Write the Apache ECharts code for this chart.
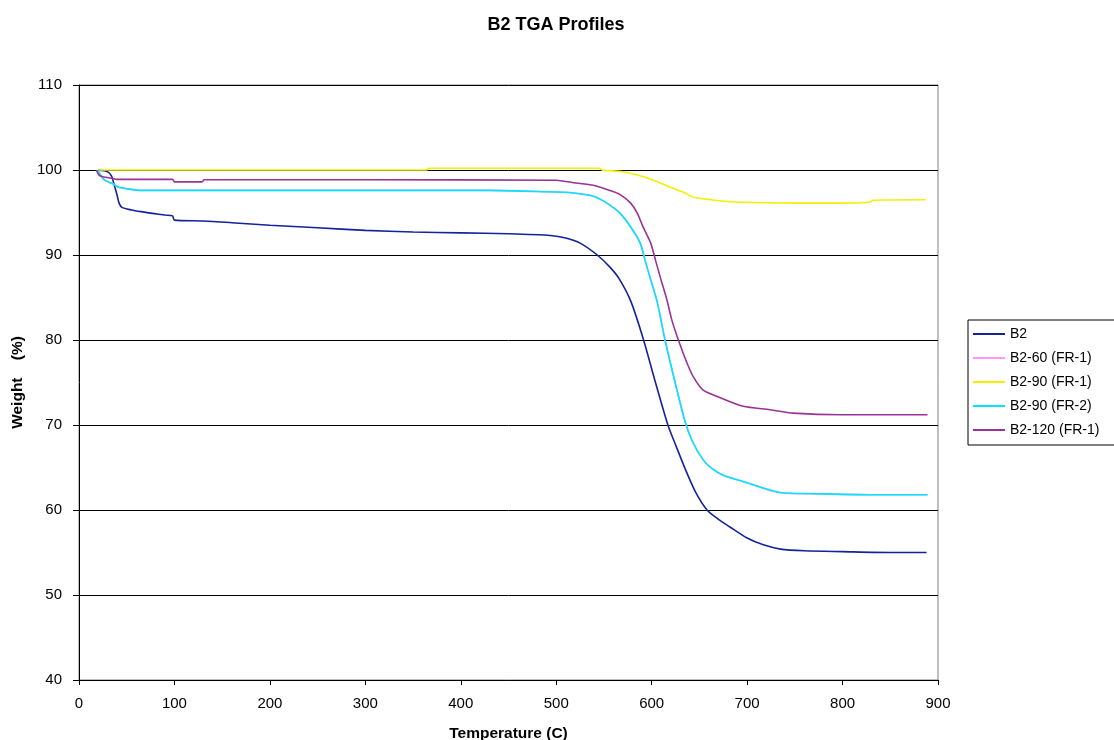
<!DOCTYPE html>
<html>
<head>
<meta charset="utf-8">
<script src="https://cdn.jsdelivr.net/npm/echarts@6/dist/echarts.min.js"></script>
<style>
html,body{margin:0;padding:0;background:#fff;}
#chart{width:1114px;height:740px;}
</style>
</head>
<body>
<div id="chart"></div>
<script>
// Series names
var seriesNames = ['B2', 'B2-60 (FR-1)', 'B2-90 (FR-1)', 'B2-90 (FR-2)', 'B2-120 (FR-1)'];

// [Temperature (C), Weight (%)]
var b2 = [[20,100],[30,99.8],[34,99.3],[36,98.6],[40,97.0],[42,96.1],[45,95.6],[55,95.3],[65,95.1],[77,94.9],[90,94.7],[98,94.6],[100,94.1],[130,94.0],[160,93.8],[200,93.5],[250,93.2],[300,92.9],[350,92.7],[400,92.6],[450,92.5],[494,92.3],[510,92.0],[525,91.4],[543,90.0],[556,88.6],[566,87.2],[578,84.6],[591,80.2],[604,75.0],[617,70.0],[626,67.4],[636,64.6],[646,62.1],[658,60.0],[670,58.9],[682,58.0],[700,56.7],[717,55.9],[735,55.4],[760,55.2],[800,55.1],[850,55.0],[888,55.0]];

var b2_60_fr1 = [[20,100],[22,99.5],[27,98.8],[36,98.35],[41,98.0],[50,97.8],[66,97.6],[150,97.6],[300,97.6],[430,97.6],[486,97.45],[518,97.3],[539,96.9],[553,96.1],[567,94.9],[578,93.3],[588,91.4],[593,89.4],[599,87.1],[606,84.4],[614,80.0],[625,74.8],[635,70.4],[643,68.0],[654,65.9],[663,64.9],[675,64.1],[700,63.2],[724,62.3],[738,62.0],[780,61.9],[830,61.8],[889,61.8]];

var b2_90_fr1 = [[20,100],[100,100],[200,100],[364,100.0],[366,100.2],[545,100.2],[548,100.0],[570,99.8],[585,99.4],[602,98.8],[619,98.0],[633,97.4],[644,96.8],[662,96.5],[679,96.3],[700,96.2],[750,96.1],[800,96.1],[828,96.2],[832,96.45],[887,96.5]];

var b2_90_fr2 = [[20,100],[22,99.5],[27,98.8],[36,98.35],[41,98.0],[50,97.8],[66,97.6],[150,97.6],[300,97.6],[430,97.6],[486,97.45],[518,97.3],[539,96.9],[553,96.1],[567,94.9],[578,93.3],[588,91.4],[593,89.4],[599,87.1],[606,84.4],[614,80.0],[625,74.8],[635,70.4],[643,68.0],[654,65.9],[663,64.9],[675,64.1],[700,63.2],[724,62.35],[738,62.0],[780,61.9],[830,61.8],[889,61.8]];

var b2_120_fr1 = [[18,100],[21,99.4],[25,99.2],[35,99.0],[40,98.9],[98,98.9],[100,98.6],[129,98.6],[131,98.85],[300,98.85],[500,98.8],[518,98.5],[539,98.2],[556,97.6],[567,97.1],[578,96.1],[585,94.9],[591,93.3],[599,91.4],[604,89.4],[609,87.4],[616,84.7],[621,82.4],[628,80.0],[637,77.3],[644,75.6],[654,74.1],[672,73.2],[696,72.2],[724,71.8],[748,71.4],[800,71.2],[889,71.2]];

var xTicks = {min: 0, max: 900, interval: 100};
var yTicks = {min: 40, max: 110, interval: 10};

var seriesData = [b2, b2_60_fr1, b2_90_fr1, b2_90_fr2, b2_120_fr1];
var colors = ['#13239c', '#ff99ff', '#f2f200', '#00e6ff', '#993399'];

var font = "'Liberation Sans', Arial, sans-serif";
var chart = echarts.init(document.getElementById('chart'));
chart.setOption({
  animation: false,
  backgroundColor: '#fff',
  title: {
    text: 'B2 TGA Profiles',
    left: 551, top: 11, textAlign: 'center',
    textStyle: {fontFamily: font, fontSize: 18, fontWeight: 'bold', color: '#000'}
  },
  grid: {left: 79, right: 176, top: 85, bottom: 60, show: true, borderColor: '#808080', borderWidth: 1,
         containLabel: false, outerBoundsMode: 'none'},
  legend: {
    orient: 'vertical', left: 968, top: 320,
    data: seriesNames.map(function(n, i){ return {name: n, icon: 'rect', itemStyle: {color: colors[i]}}; }),
    itemWidth: 32, itemHeight: 2, itemGap: 10,
    padding: [7, 40, 8, 5],
    borderColor: '#000', borderWidth: 1,
    textStyle: {fontFamily: font, fontSize: 14, color: '#000'}
  },
  xAxis: {
    type: 'value', min: xTicks.min, max: xTicks.max, interval: xTicks.interval,
    name: 'Temperature (C)', nameLocation: 'middle', nameGap: 46,
    nameTextStyle: {fontFamily: font, fontSize: 15.5, fontWeight: 'bold', color: '#000'},
    axisLine: {show: true, lineStyle: {color: '#000', width: 1}},
    axisTick: {show: true, inside: false, length: 5, lineStyle: {color: '#000'}},
    axisLabel: {fontFamily: font, fontSize: 15, color: '#000', margin: 16},
    splitLine: {show: false}
  },
  yAxis: {
    type: 'value', min: yTicks.min, max: yTicks.max, interval: yTicks.interval,
    name: 'Weight    (%)', nameLocation: 'middle', nameGap: 52,
    nameTextStyle: {fontFamily: font, fontSize: 15.5, fontWeight: 'bold', color: '#000'},
    axisLine: {show: true, lineStyle: {color: '#000', width: 1}},
    axisTick: {show: true, inside: false, length: 6, lineStyle: {color: '#000'}},
    axisLabel: {fontFamily: font, fontSize: 15, color: '#000', margin: 17},
    splitLine: {show: true, lineStyle: {color: '#000', width: 1}}
  },
  series: seriesNames.map(function(n, i){
    return {
      name: n, type: 'line', data: seriesData[i],
      showSymbol: false, symbol: 'none', smooth: 0.25,
      lineStyle: {color: colors[i], width: 1.6},
      itemStyle: {color: colors[i]}
    };
  })
});
</script>
</body>
</html>
